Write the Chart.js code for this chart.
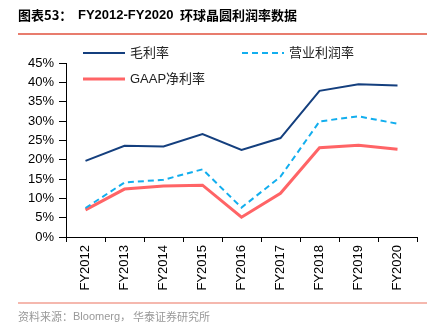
<!DOCTYPE html>
<html>
<head>
<meta charset="utf-8">
<script src="https://cdn.jsdelivr.net/npm/chart.js@4"></script>
<style>
  html, body { margin: 0; padding: 0; background: #fff; }
  #wrap { width: 444px; height: 330px; }
</style>
</head>
<body>
<div id="wrap"><canvas id="myChart" width="444" height="330"></canvas></div>
<script>
const years = ['FY2012', 'FY2013', 'FY2014', 'FY2015', 'FY2016', 'FY2017', 'FY2018', 'FY2019', 'FY2020'];
const grossMargin = [19.7, 23.6, 23.4, 26.6, 22.5, 25.6, 37.8, 39.5, 39.2];
const operatingMargin = [7.5, 14.1, 14.8, 17.5, 7.6, 15.6, 29.9, 31.2, 29.3];
const netMargin = [7.0, 12.4, 13.2, 13.4, 5.1, 11.3, 23.1, 23.7, 22.7];

const FONT = '"Liberation Sans", Arial, "Noto Sans CJK SC", sans-serif';
const CJK = '"Noto Sans CJK SC", "Liberation Sans", sans-serif';

const ctx = document.getElementById('myChart').getContext('2d');

// 标题、图例、来源
const decor = {
  id: 'decor',
  afterDraw(chart) {
    const c = chart.ctx;
    c.save();
    // 标题
    c.fillStyle = '#000';
    c.textBaseline = 'middle';
    c.font = 'bold 13px ' + CJK;
    c.fillText('图表53：', 18, 15);
    c.font = 'bold 13px ' + FONT;
    c.fillText('FY2012-FY2020', 78, 15);
    c.font = 'bold 13px ' + CJK;
    c.fillText('环球晶圆利润率数据', 180, 15);
    c.strokeStyle = '#E0503C';
    c.lineWidth = 1.5;
    c.beginPath(); c.moveTo(18, 34); c.lineTo(427, 34); c.stroke();

    // 图例
    const items = [
      { ds: 0, x: 83, y: 53, text: '毛利率' },
      { ds: 1, x: 242, y: 53, text: '营业利润率' },
      { ds: 2, x: 83, y: 79, text: 'GAAP净利率' }
    ];
    items.forEach(it => {
      const d = chart.data.datasets[it.ds];
      c.strokeStyle = d.borderColor;
      c.lineWidth = d.borderWidth;
      c.setLineDash(d.borderDash || []);
      c.beginPath(); c.moveTo(it.x, it.y); c.lineTo(it.x + 42, it.y); c.stroke();
      c.setLineDash([]);
      c.fillStyle = '#222';
      c.font = '13px ' + FONT + ', ' + CJK;
      c.fillText(it.text, it.x + 47, it.y);
    });

    // 来源
    c.strokeStyle = '#F2A093';
    c.lineWidth = 1.5;
    c.beginPath(); c.moveTo(18, 303); c.lineTo(427, 303); c.stroke();
    c.fillStyle = '#999';
    c.font = '11px ' + CJK;
    c.fillText('资料来源：', 18, 317);
    c.font = '11px ' + FONT;
    c.fillText('Bloomerg，', 73, 317);
    c.font = '11px ' + CJK;
    c.fillText('华泰证券研究所', 133, 317);
    c.restore();
  }
};

const data = {
  labels: years,
  datasets: [
    {
      label: '毛利率',
      data: grossMargin,
      borderColor: '#143F7E',
      borderWidth: 2,
      pointRadius: 0,
      fill: false,
      tension: 0
    },
    {
      label: '营业利润率',
      data: operatingMargin,
      borderColor: '#12AEEE',
      borderWidth: 2,
      borderDash: [6, 4],
      pointRadius: 0,
      fill: false,
      tension: 0
    },
    {
      label: 'GAAP净利率',
      data: netMargin,
      borderColor: '#FF6466',
      borderWidth: 3,
      pointRadius: 0,
      fill: false,
      tension: 0
    }
  ]
};

const config = {
  type: 'line',
  data: data,
  plugins: [decor],
  options: {
    responsive: false,
    animation: false,
    layout: { padding: { top: 63, right: 27, left: 0, bottom: 0 } },
    plugins: {
      legend: { display: false },
      tooltip: { enabled: false }
    },
    scales: {
      x: {
        offset: true,
        afterFit: (s) => { s.height = 93; },
        grid: { offset: true, drawOnChartArea: false, drawTicks: true, tickLength: 5, color: '#000' },
        border: { color: '#000', width: 1 },
        ticks: {
          color: '#000',
          autoSkip: false,
          maxRotation: 90,
          minRotation: 90,
          padding: 3,
          font: { family: FONT, size: 13 }
        }
      },
      y: {
        min: 0,
        max: 45,
        afterFit: (s) => { s.width = 66; },
        grid: { drawOnChartArea: false, drawTicks: true, tickLength: 7, color: '#000' },
        border: { color: '#000', width: 1 },
        ticks: {
          stepSize: 5,
          autoSkip: false,
          color: '#000',
          padding: 5,
          font: { family: FONT, size: 13 },
          callback: (v) => v + '%'
        }
      }
    }
  }
};

new Chart(ctx, config);
</script>
</body>
</html>
